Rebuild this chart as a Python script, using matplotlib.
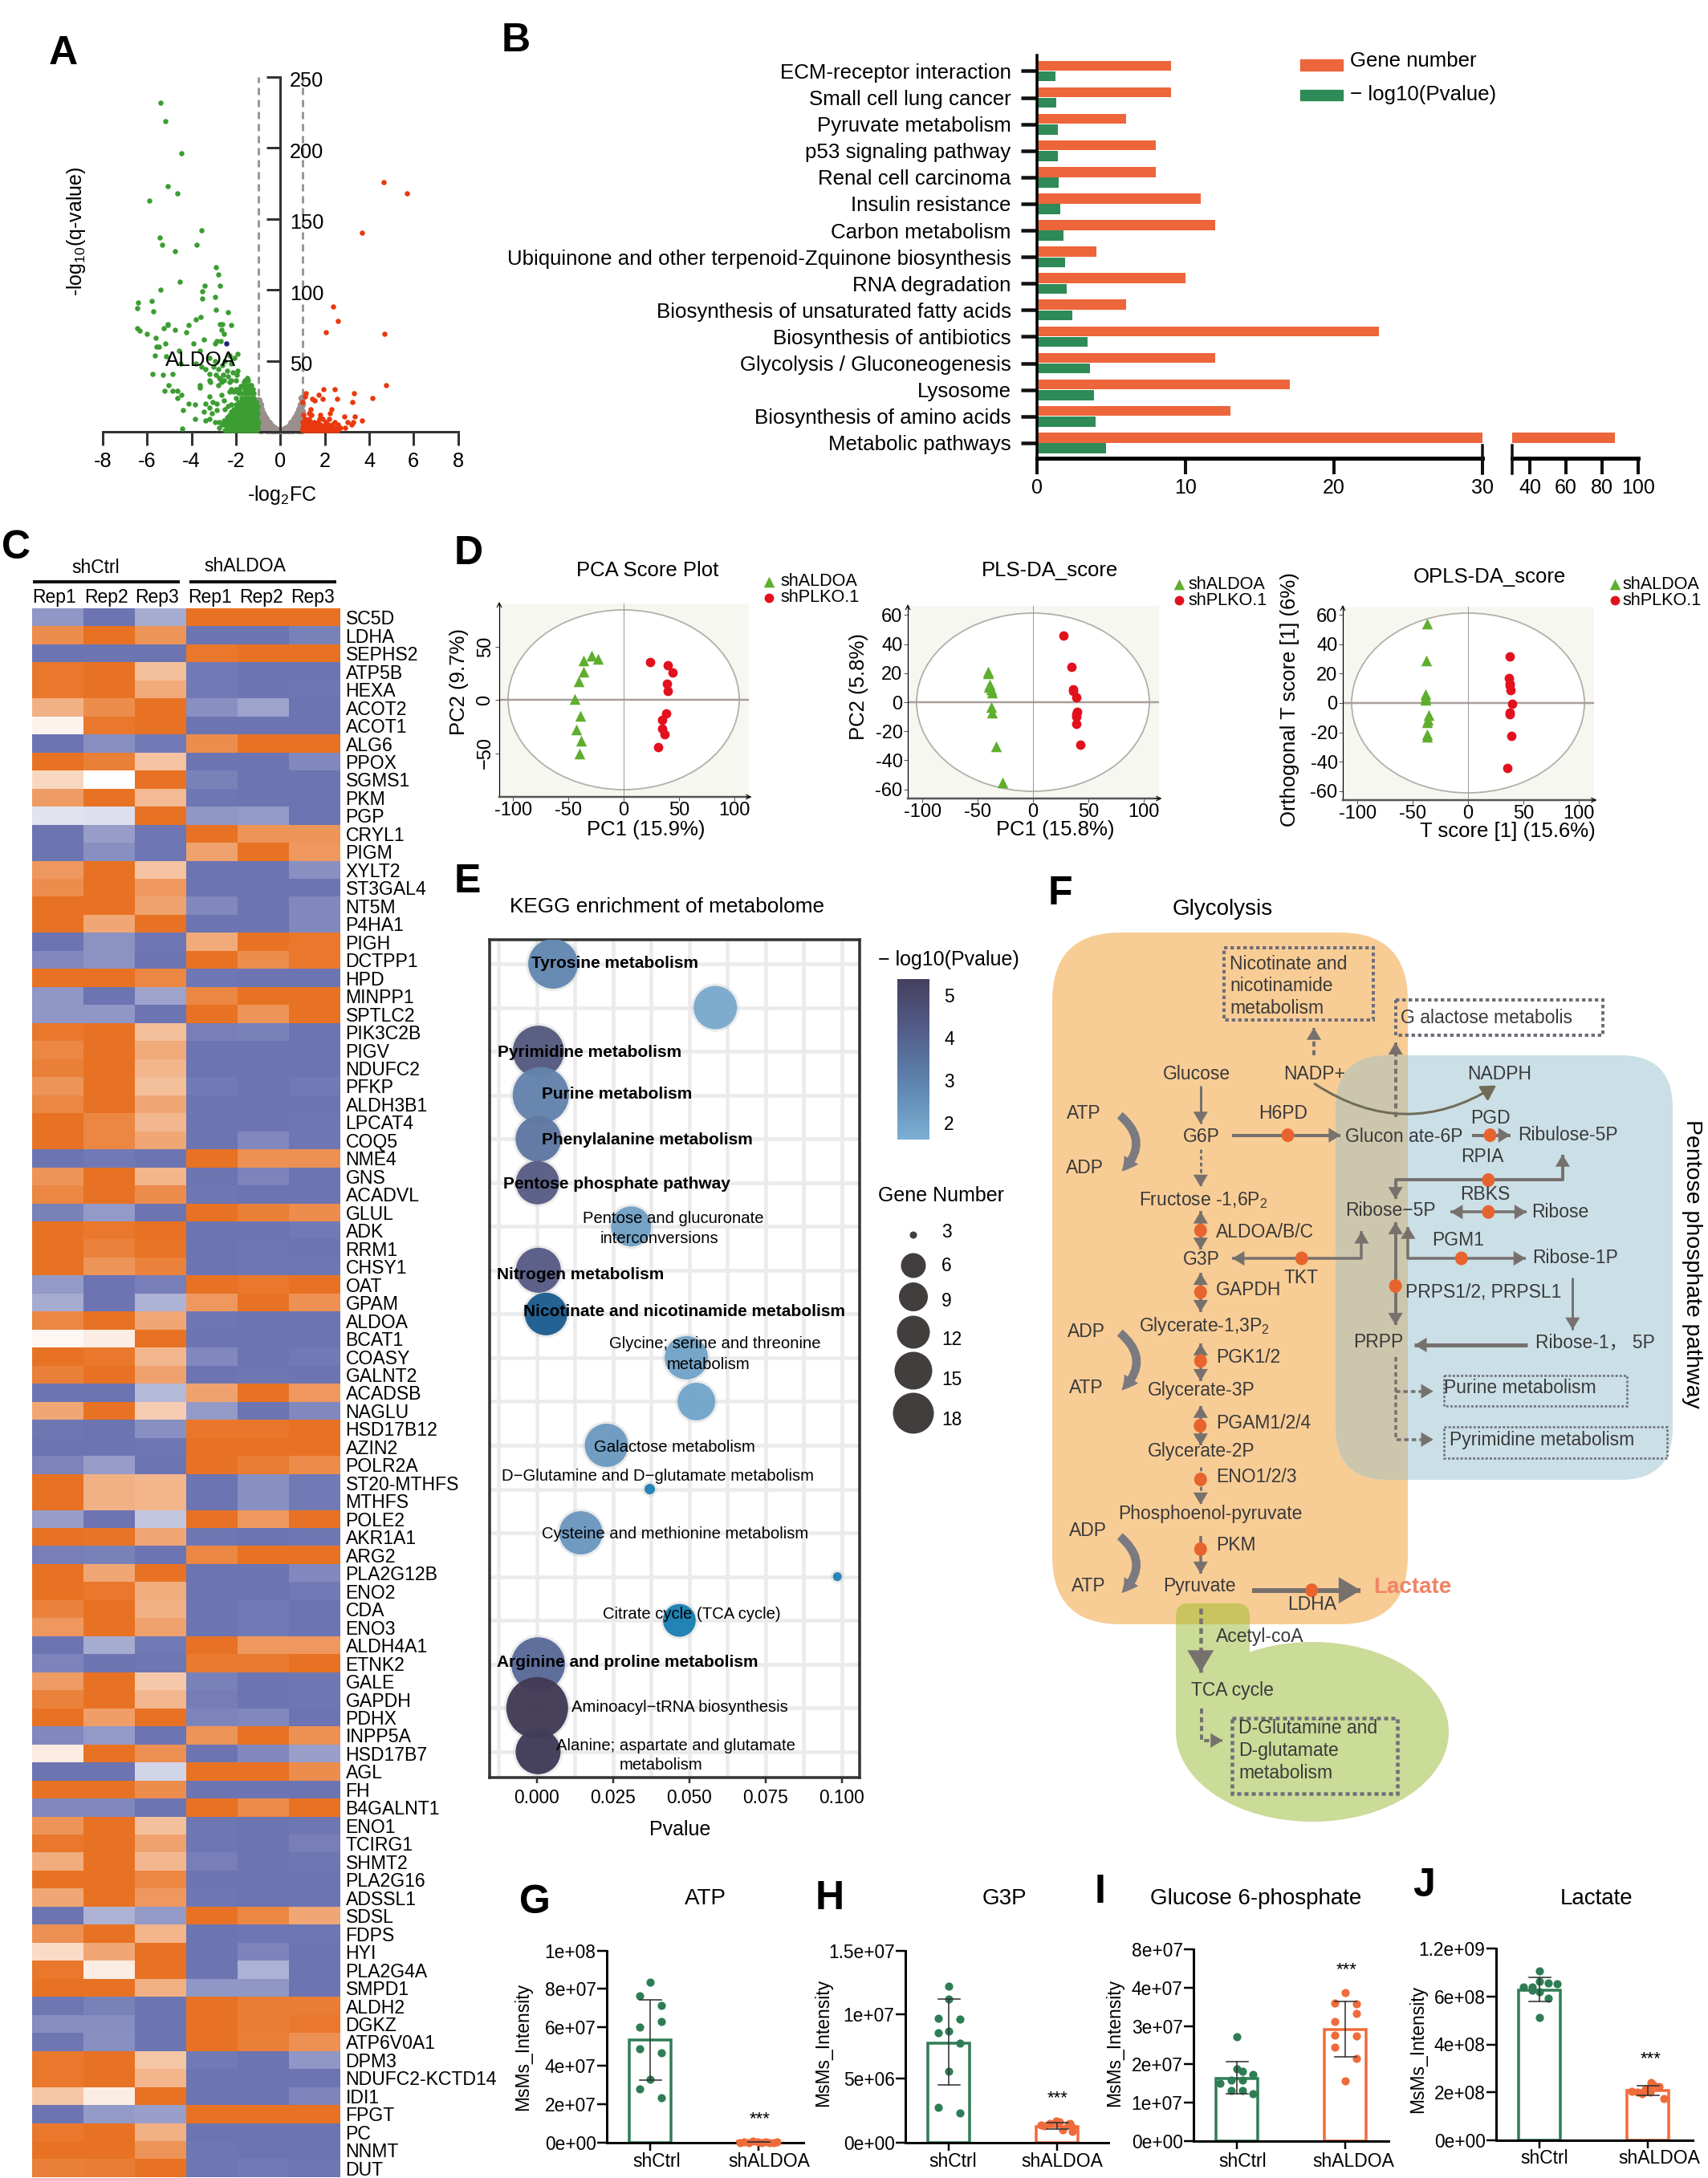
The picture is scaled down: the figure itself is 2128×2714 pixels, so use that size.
import numpy as np
import matplotlib
matplotlib.use('Agg')
import matplotlib.pyplot as plt
from matplotlib.colors import LinearSegmentedColormap
from matplotlib.patches import Rectangle, Ellipse, FancyBboxPatch, FancyArrowPatch

plt.rcParams['font.family'] = ['Liberation Sans', 'DejaVu Sans']
plt.rcParams['mathtext.default'] = 'regular'
plt.rcParams['axes.unicode_minus'] = False

W, H = 2128, 2714

# ---- A: volcano
volcano_green = [(-5.4,232),(-5.19,219),(-4.44,196),(-5.07,173),(-4.63,168),(-5.9,163),(-3.57,142),(-5.44,137),
    (-5.31,132),(-3.77,132),(-4.74,127),(-2.9,116),(-2.81,111),(-4.53,106),(-3.41,103),(-2.71,103),(-5.4,100),
    (-3.5,99),(-2.94,95),(-3.5,94),(-6.41,91),(-5.8,92),(-6.43,87),(-5.73,85),(-2.9,86),(-2.36,84),(-3.59,81),
    (-3.79,79),(-2.73,76),(-5.07,76),(-5.07,75),(-2.63,76),(-2.21,75),(-4.14,75),(-5.24,73),(-6.46,73),(-4.76,72),
    (-2.66,72),(-6.33,71),(-4.24,70),(-6,69),(-2.53,69),(-5.63,66),(-3.43,65),(-2.69,64),(-2.85,64),(-3.91,62),
    (-5.19,62),(-2.94,62),(-5.57,60),(-5.47,60),(-4.57,57),(-3.63,57),(-5.64,54),(-1.94,55),(-3.79,48),(-3.36,44),
    (-2.93,50),(-2.5,50),(-2.07,52),(-2.29,54),(-2.79,44),(-2.57,40),(-1.93,43),(-5.14,53),(-4.5,48),(-4.86,41),
    (-5.77,41),(-5.29,40),(-5.03,33),(-5.21,29),(-4.87,29),(-4.63,29),(-4.46,26),(-4.64,24),(-4.13,20),(-3.86,19),
    (-4.39,15),(-3.83,9),(-4.43,2),(-3.63,33),(-3.64,31),(-3.21,36),(-3.14,35),(-2.79,33),(-2.64,35),(-2.69,37),
    (-2.53,36),(-2.29,35),(-2,36),(-1.5,38),(-1.64,35),(-1.86,30),(-3.2,25),(-3.04,21),(-3.36,20),(-3.2,17),
    (-2.86,20),(-3.43,14),(-3.1,13),(-3.2,9),(-3.36,8),(-2.86,15),(-2.53,22),(-2.64,26),(-2.93,7),(-2.76,3),
    (-3.55,46),(-3.2,52),(-3,46),(-2.6,47),(-2.2,48),(-2.9,40),(-3.2,41),(-2.4,43),(-2.75,38),(-2.35,39),(-2.15,42),(-1.95,40)]
green_rows = [(1,[-2.5,-2.35,-2.25,-2.15,-2.05,-1.95,-1.85,-1.75,-1.65,-1.55,-1.45,-1.35,-1.25,-1.15,-1.05]),
    (1.5,[-2.3,-2.1,-1.9,-1.7,-1.5,-1.3,-1.1]),
    (3,[-2.3,-2.2,-2.1,-2,-1.9,-1.8,-1.7,-1.6,-1.5,-1.4,-1.3,-1.2,-1.1,-1.02]),
    (4,[-2.45,-2.15,-1.85,-1.65,-1.45,-1.25,-1.05]),
    (5,[-2.6,-2.4,-2.25,-2.1,-1.95,-1.8,-1.7,-1.55,-1.4,-1.3,-1.2,-1.1,-1.03]),
    (6,[-2.5,-2.3,-2,-1.85,-1.65,-1.5,-1.25]),
    (7,[-2.75,-2.45,-2.2,-2.05,-1.9,-1.75,-1.6,-1.45,-1.35,-1.2,-1.1,-1]),
    (8,[-2.55,-2.35,-2.15,-1.95,-1.8,-1.65,-1.5,-1.3]),
    (9,[-2.3,-2.1,-1.85,-1.7,-1.55,-1.4,-1.25,-1.15,-1.05]),
    (10,[-2.4,-2.2,-2,-1.75,-1.6,-1.45,-1.3]),
    (11,[-2,-1.8,-1.65,-1.5,-1.35,-1.2,-1.1]),
    (12,[-2.3,-2.15,-1.9,-1.75,-1.6,-1.45,-1.3]),
    (13,[-2.05,-1.7,-1.55,-1.4,-1.25,-1.1,-1.02]),
    (14,[-2.2,-2,-1.85]),
    (15,[-1.9,-1.7,-1.6,-1.45,-1.3,-1.2,-1.05]),
    (16,[-2.5,-2.1,-1.85,-1.75,-1.55]),
    (18,[-2.35,-1.95,-1.75,-1.6,-1.45,-1.3,-1.15,-1.03]),
    (19,[-2.2,-2,-1.85,-1.7]),
    (21,[-1.9,-1.8,-1.6,-1.5,-1.35,-1.2,-1.1]),
    (24,[-2,-1.75,-1.55,-1.45,-1.3,-1.2]),
    (27,[-1.85,-1.7,-1.6,-1.45,-1.3,-1.2]),
    (28,[-2.1,-2.3,-1.95]),
    (30,[-2.2,-2,-1.9,-1.6,-1.5,-1.35,-1.25]),
    (32,[-1.8,-1.7,-1.65,-1.55,-1.45]),
    (33,[-1.5,-1.4,-1.3]),
    (36,[-1.6,-1.45,-2.2])]
volcano_red = [(4.67,176),(5.71,168),(3.69,140),(2.36,88),(2.61,78),(2.04,70),(4.7,69),(4.77,33),(1.94,30),(2.43,30),
    (3.33,27),(4.14,24),(3.26,21),(2.57,23),(1.9,23),(1.74,26),(1.16,27),(1.1,25),(1,21),(1.43,23),(1.54,22),
    (2.29,16),(2.24,13),(1.36,16),(1.29,13),(3.36,11),(2.87,11),(3.67,8),(3.29,7),(3.03,7),(3.19,5)]
red_rows = [(1,[1,1.1,1.2,1.3,1.4,1.5,1.6,1.7,1.8,1.9,2,2.1,2.2,2.3,2.4,2.5,2.6]),
    (3,[1,1.1,1.2,1.3,1.4,1.5,1.6,1.7,1.8,1.9,2,2.1,2.25,2.4,2.55,2.7,2.9]),
    (5,[1.05,1.15,1.3,1.4,1.55,1.65,1.8,2,2.15,2.35,2.6]),
    (7,[1,1.2,1.35,1.5,1.7,2.05,2.45]),
    (9,[1.1,1.3,1.75,1.9,2.2]),
    (12,[1.05,1.4,1.8])]
gray_cols = [(-.98,[22,18,14,10,6,2]),(-.93,[19,15,11,7,3]),(-.87,[16,12,8,4,1]),(-.8,[13,10,6,2]),(-.72,[11,7,3]),
    (-.65,[9,5,2]),(-.58,[7,4,1]),(-.5,[6,2]),(-.42,[4,1]),(-.35,[3,1]),(-.25,[2,1]),(-.15,[1]),(-.05,[1]),(.05,[1]),
    (.15,[1]),(.25,[2,1]),(.35,[3,1]),(.42,[4,1]),(.5,[6,2]),(.58,[7,4,1]),(.65,[9,5,2]),(.72,[11,7,3]),(.8,[13,9,5,1]),
    (.87,[16,12,8,4,1]),(.93,[19,15,11,7,3]),(.98,[24,19,14,9,5,1])]
aldoa_point = (-2.43, 62)

# ---- B: enrichment bars
pathways = ['ECM-receptor interaction','Small cell lung cancer','Pyruvate metabolism','p53 signaling pathway',
    'Renal cell carcinoma','Insulin resistance','Carbon metabolism','Ubiquinone and other terpenoid-Zquinone biosynthesis',
    'RNA degradation','Biosynthesis of unsaturated fatty acids','Biosynthesis of antibiotics','Glycolysis / Gluconeogenesis',
    'Lysosome','Biosynthesis of amino acids','Metabolic pathways']
gene_number = [9,9,6,8,8,11,12,4,10,6,23,12,17,13,87]
log_pvalue = [1.25,1.3,1.4,1.42,1.45,1.55,1.8,1.9,2.0,2.4,3.4,3.55,3.85,3.95,4.65]

# ---- C: heatmap
genes = ['SC5D','LDHA','SEPHS2','ATP5B','HEXA','ACOT2','ACOT1','ALG6','PPOX','SGMS1','PKM','PGP','CRYL1','PIGM','XYLT2',
    'ST3GAL4','NT5M','P4HA1','PIGH','DCTPP1','HPD','MINPP1','SPTLC2','PIK3C2B','PIGV','NDUFC2','PFKP','ALDH3B1','LPCAT4',
    'COQ5','NME4','GNS','ACADVL','GLUL','ADK','RRM1','CHSY1','OAT','GPAM','ALDOA','BCAT1','COASY','GALNT2','ACADSB','NAGLU',
    'HSD17B12','AZIN2','POLR2A','ST20-MTHFS','MTHFS','POLE2','AKR1A1','ARG2','PLA2G12B','ENO2','CDA','ENO3','ALDH4A1',
    'ETNK2','GALE','GAPDH','PDHX','INPP5A','HSD17B7','AGL','FH','B4GALNT1','ENO1','TCIRG1','SHMT2','PLA2G16','ADSSL1',
    'SDSL','FDPS','HYI','PLA2G4A','SMPD1','ALDH2','DGKZ','ATP6V0A1','DPM3','NDUFC2-KCTD14','IDI1','FPGT','PC','NNMT','DUT']
heat = [[-.75,-1,-.6,1,1,1],[.8,1,.75,-1,-1,-.9],[-1,-1,-1,.95,1,1],[.95,1,.45,-.95,-1,-1],[.95,1,.6,-.95,-1,-.98],
    [.55,.8,1,-.8,-.65,-1],[.08,.95,1,-1,-1,-1],[-1,-.8,-.95,.8,1,1],[1,.9,.42,-1,-1,-.85],[.28,0,1,-.9,-1,-1],
    [.7,1,.48,-.98,-1,-1],[-.2,-.22,1,-.75,-.72,-1],[-1,-.7,-.98,1,.75,.75],[-1,-.8,-.98,.65,1,.72],[.72,1,.42,-1,-1,-.8],
    [.8,1,.72,-1,-1,-1],[1,1,.65,-.85,-1,-.85],[1,.62,1,-1,-1,-.85],[-1,-.78,-.98,.6,1,.95],[-.85,-.78,-1,1,.8,.95],
    [1,1,.85,-.98,-1,-1],[-.75,-1,-.65,.85,1,1],[-.75,-.75,-1,1,.75,1],[.95,1,.45,-.92,-.9,-1],[.85,1,.6,-1,-1,-1],
    [.9,1,.52,-1,-1,-1],[.75,1,.45,-.95,-1,-.95],[.85,1,.62,-1,-1,-1],[1,.85,.5,-1,-1,-.98],[1,.85,.62,-1,-.85,-.98],
    [-1,-.95,-1,1,.78,.78],[.75,1,.52,-1,-.88,-1],[.85,1,.8,-.98,-1,-1],[-.9,-.72,-1,1,.9,.8],[1,.95,1,-1,-1,-.95],
    [1,.88,.98,-1,-.98,-1],[1,.75,.88,-1,-.98,-.98],[-.72,-1,-.92,1,.95,1],[-.6,-1,-.55,.72,1,.78],[.85,1,.62,-.97,-1,-1],
    [.05,.12,1,-1,-1,-1],[1,.95,.5,-.85,-1,-.95],[.9,1,.65,-1,-.98,-1],[-1,-1,-.5,.65,1,.72],[.62,1,.35,-.72,-1,-.85],
    [-.97,-1,-.8,.96,.96,1],[-1,-1,-.97,1,1,1],[-.88,-.7,-1,1,.92,.82],[1,.55,.52,-1,-.8,-.95],[1,.55,.52,-1,-.8,-.95],
    [-.7,-1,-.4,1,.72,1],[1,.98,.62,-.97,-1,-.97],[-.92,-.9,-1,.85,1,1],[1,.62,1,-1,-1,-.85],[1,.95,.58,-1,-1,-.95],
    [.88,1,.55,-1,-.95,-1],[.72,1,.65,-1,-.95,-1],[-1,-.6,-.95,1,.72,.72],[-.88,-1,-.97,.93,.93,1],[.7,1,.38,-.9,-1,-.97],
    [.88,1,.5,-.93,-1,-.97],[1,.68,1,-.88,-.85,-1],[-.85,-.72,-1,.75,1,.78],[.14,1,.78,-1,-.85,-.68],[-1,-1,-.3,1,1,.8],
    [1,1,.8,-1,-1,-1],[-.85,-.85,-1,1,.82,1],[.75,1,.45,-.97,-1,-.97],[.95,1,.65,-.98,-1,-.92],[.58,1,.5,-.92,-1,-.97],
    [1,1,.85,-1,-1,-1],[.62,1,.72,-.97,-1,-1],[-1,-.55,-.72,1,.85,.62],[.78,1,.52,-1,-.98,-.98],[.25,.62,1,-1,-.88,-1],
    [.95,.12,1,-1,-.55,-1],[1,1,.55,-.75,-.75,-1],[-.97,-.9,-1,1,.92,.92],[-.82,-.82,-1,1,.92,.95],[-.97,-.8,-1,1,.9,.78],
    [.95,1,.4,-.95,-1,-.75],[.95,1,.52,-1,-1,-1],[.4,.12,1,-1,-1,-.88],[-1,-.72,-.68,1,1,1],[.95,1,.55,-1,-1,-1],
    [1,1,.75,-.97,-1,-1],[.9,.92,1,-.97,-.95,-.97]]
rep_labels = ['Rep1','Rep2','Rep3','Rep1','Rep2','Rep3']

# ---- D: score plots
pca_tri = [(-29,41),(-23,38.5),(-36,37),(-36,26),(-41,17),(-44,.5),(-39,-15),(-43,-28),(-38.5,-38),(-40,-50)]
pca_cir = [(24,35),(40,32),(44,25.5),(39,15),(40,8),(38.5,-13),(35,-18.5),(35,-27),(37,-32.5),(31,-44)]
pls_tri = [(-40.7,21),(-41,19.7),(-39,12),(-40,10.7),(-37.8,8.7),(-37,6.8),(-37.8,-3.3),(-37,-7),(-33.4,-30.4),(-27.6,-55)]
pls_cir = [(27.6,46),(35,24.3),(36.3,8.8),(39.2,3.1),(40,-6.8),(39.6,-8.5),(39.2,-10),(39.2,-15),(43,-29.5),(36.3,8)]
opls_tri = [(-37,54),(-38,29),(-38.5,5.8),(-38.5,3.8),(-38.5,2.2),(-35.6,-8.2),(-36.3,-11.5),(-37,-13.3),(-37,-21.5),(-37,-22.7)]
opls_cir = [(37.8,31.6),(37,16.7),(37.8,13),(37.8,12.2),(38.5,8.9),(40,-.5),(37.8,-6.4),(37.8,-7.8),(39.2,-22.4),(35.6,-44)]

# ---- E: KEGG bubbles
kegg_p = [.0053,.0585,.0005,.0013,.0005,.0002,.0309,.0005,.003,.049,.0523,.0228,.037,.0144,.0985,.0467,.0004,.0001,.0004]
kegg_genes = [11.7,8.9,12.5,15,9.9,8.9,7.6,9.6,8.6,8.9,6.7,8.9,.52,8.9,.37,5.1,13.7,18.1,9.6]
kegg_colors = ['#6488B2','#7BAACD','#565A80','#6483AD','#6079A3','#595C85','#72A1C5','#585C87','#1D5E90','#72A4C8',
    '#72A6CB','#6E9BC2','#1F80B4','#6D98C0','#1F80B4','#1B80B3','#5A6B9A','#423B56','#413C58']
kegg_labels = [('Tyrosine metabolism',384,152,True),('Pyrimidine metabolism',314,293,True),('Purine metabolism',390,359,True),
    ('Phenylalanine metabolism',471,430,True),('Pentose phosphate pathway',389,500,True),
    ('Pentose and glucuronate',541,555,False),('interconversions',504,586,False),('Nitrogen metabolism',291,643,True),
    ('Nicotinate and nicotinamide metabolism',572,701,True),('Glycine; serine and threonine',654,752,False),
    ('metabolism',638,784,False),('Galactose metabolism',545,915,False),('D\u2212Glutamine and D\u2212glutamate metabolism',499,961,False),
    ('Cysteine and methionine metabolism',546,1052,False),('Citrate cycle (TCA cycle)',591,1178,False),
    ('Arginine and proline metabolism',417,1254,True),('Aminoacyl\u2212tRNA biosynthesis',559,1325,False),
    ('Alanine; aspartate and glutamate',549,1385,False),('metabolism',508,1416,False)]
legend_genes = [3,6,9,12,15,18]

# ---- G-J: bars with points
atp_ctrl = [8.34e7,7.65e7,7.13e7,6.32e7,6.02e7,4.88e7,4.68e7,3.28e7,2.81e7,2.35e7]
atp_ctrl_x = [0,-.1,.1,.1,-.1,-.1,.1,0,-.1,.1]
atp_aldoa = [.02e7,.05e7,.01e7,.07e7,.03e7,.01e7,.06e7,.02e7,.01e7,.03e7]
atp_aldoa_x = [-.17,-.13,-.09,-.05,-.01,.03,.07,.1,.14,.17]
g3p_ctrl = [1.22e7,1.123e7,9.73e6,9.63e6,8.74e6,8.56e6,7.74e6,5.58e6,2.76e6,2.3e6]
g3p_ctrl_x = [0,0,-.1,.1,0,-.1,.1,0,-.1,.1]
g3p_aldoa = [1.4e6,1.3e6,1.5e6,1.7e6,1.6e6,1e6,1.45e6,.85e6,1.2e6,1.5e6]
g3p_aldoa_x = [-.15,-.12,-.07,-.01,.02,.05,.1,.14,.14,.12]
g6p_ctrl = [2.71e7,1.89e7,1.81e7,1.73e7,1.58e7,1.51e7,1.58e7,1.31e7,1.31e7,1.23e7]
g6p_ctrl_x = [0,0,.05,.145,-.05,-.155,.05,-.05,.05,.145]
g6p_aldoa = [3.88e7,3.59e7,3.57e7,3.33e7,3.11e7,2.76e7,2.75e7,2.45e7,2.16e7,1.56e7]
g6p_aldoa_x = [0,-.1,.1,.1,-.1,-.1,.1,-.1,.1,0]
lac_ctrl = [7.05e8,6.63e8,6.55e8,6.52e8,6.38e8,6.27e8,6.19e8,6.4e8,5.91e8,5.11e8]
lac_ctrl_x = [0,0,.08,.16,-.15,-.07,0,-.07,.08,0]
lac_aldoa = [2.05e8,2e8,1.95e8,2.1e8,2.42e8,2.3e8,2.25e8,1.75e8,2e8,2.15e8]
lac_aldoa_x = [-.15,-.1,-.05,0,.03,.05,.1,.15,.02,-.02]
bar_means = [(5.35e7,1e6),(7.8e6,1.25e6),(1.63e7,2.9e7),(6.27e8,2.07e8)]
bar_errs = [((3.25e7,7.45e7),(0,3e5)),((4.53e6,1.12e7),(1.05e6,1.56e6)),((1.23e7,2.08e7),(2.19e7,3.64e7)),
    ((5.78e8,6.81e8),(1.89e8,2.29e8))]
bar_ticks = [[0,2e7,4e7,6e7,8e7,1e8],[0,5e6,1e7,1.5e7],[0,1e7,2e7,3e7,4e7,5e7],[0,2e8,4e8,6e8,8e8]]
bar_ticklabels = [['0e+00','2e+07','4e+07','6e+07','8e+07','1e+08'],['0e+00','5e+06','1e+07','1.5e+07'],
    ['0e+00','1e+07','2e+07','3e+07','4e+07','8e+07'],['0e+00','2e+08','4e+08','6e+08','1.2e+09']]
bar_titles = ['ATP','G3P','Glucose 6-phosphate','Lactate']

ORANGE, GREEN = '#EC653B', '#2E8B57'
BAR_ORANGE, BAR_GREEN = '#EF6B3C', '#2E7D55'
DARK = '#333333'
ARROW = '#77716E'

fig = plt.figure(figsize=(W / 100, H / 100), dpi=100, facecolor='white')


def ax_px(l, t, r, b):
    return fig.add_axes([l / W, 1 - b / H, (r - l) / W, (b - t) / H])


def pt(px):
    return px * 0.72


# overlay in pixel coordinates, for the pathway drawing and loose labels
ov = fig.add_axes([0, 0, 1, 1], zorder=5)
ov.set_xlim(0, W)
ov.set_ylim(H, 0)
ov.axis('off')


def txt(x, y, s, size=16.5, ha='center', va='center', color='black', **kw):
    return ov.text(x, y, s, fontsize=size, ha=ha, va=va, color=color, **kw)


for lx, ly, s in [(61, 80, 'A'), (625, 64, 'B'), (2, 696, 'C'), (566, 703, 'D'), (566, 1112, 'E'), (1306, 1127, 'F'),
                  (647, 2384, 'G'), (1016, 2379, 'H'), (1364, 2371, 'I'), (1760, 2363, 'J')]:
    txt(lx, ly, s, size=36, ha='left', va='baseline', fontweight='bold')

# ---------------- A
ax = ax_px(128, 96, 570.6, 538)
ax.patch.set_alpha(0)
ax.set_xlim(-8, 8)
ax.set_ylim(0, 250)
for sp in ['top', 'right']:
    ax.spines[sp].set_visible(False)
ax.spines['left'].set_position(('data', 0))
for sp in ['left', 'bottom']:
    ax.spines[sp].set_linewidth(pt(3))
    ax.spines[sp].set_color(DARK)
ax.set_xticks(range(-8, 9, 2))
ax.set_xticklabels([str(v) for v in range(-8, 9, 2)], fontsize=18.3)
ax.set_yticks(range(50, 251, 50))
ax.set_yticklabels([])
ax.tick_params(length=pt(17), width=pt(3), color=DARK, pad=6)
for v in range(50, 251, 50):
    ax.text(.43, v - 3, str(v), fontsize=18.3, ha='left', va='center')
for xv in [-1, 1]:
    ax.plot([xv, xv], [0, 250], color='#A09595', lw=pt(3), ls=(0, (3, 2)), zorder=1)
gray_pts = [(x, y) for x, ys in gray_cols for y in ys]
ax.scatter(*zip(*gray_pts), s=45, color='#9A8F8C', lw=0, zorder=2, clip_on=False)
green_pts = volcano_green + [(x, y) for y, xs in green_rows for x in xs]
red_pts = volcano_red + [(x, y) for y, xs in red_rows for x in xs]
ax.scatter(*zip(*green_pts), s=22, color='#3C9D32', lw=0, zorder=3, clip_on=False)
ax.scatter(*zip(*red_pts), s=22, color='#E9390E', lw=0, zorder=3, clip_on=False)
ax.scatter(*aldoa_point, s=22, color='#22227A', lw=0, zorder=3)
ax.text(-3.58, 50.5, 'ALDOA', fontsize=18.7, ha='center', va='center', zorder=4)
txt(351, 617, '-log$_2$FC', size=18)
txt(95, 288, '-log$_{10}$(q-value)', size=18, rotation=90)

# ---------------- B
ax = ax_px(1292, 68.6, 1847, 570.6)
ax2 = ax_px(1883.5, 68.6, 2041, 570.6)
rows = np.arange(len(pathways))
for a, lim in [(ax, (0, 30)), (ax2, (30, 100))]:
    a.patch.set_alpha(0)
    a.set_xlim(*lim)
    a.set_ylim(14.565, -.6)
    a.barh(rows - .2, gene_number, height=.38, color=ORANGE)
    for sp in ['top', 'right']:
        a.spines[sp].set_visible(False)
    a.spines['bottom'].set_linewidth(pt(5))
    a.tick_params(axis='x', length=pt(20), width=pt(4), labelsize=18, pad=4, color='#111111')
ax.barh(rows + .2, log_pvalue, height=.38, color=GREEN)
ax.spines['left'].set_linewidth(pt(3.5))
ax.set_yticks(rows)
ax.set_yticklabels(pathways, fontsize=18.6)
ax.tick_params(axis='y', length=pt(20), width=pt(4.5), pad=9, color='#111111')
ax.set_xticks([0, 10, 20, 30])
ax2.spines['left'].set_visible(False)
ax2.set_yticks([])
ax2.set_xticks([40, 60, 80, 100])
for a, xv in [(ax, 30), (ax2, 30)]:
    a.plot([xv, xv], [14.1, 15.15], color='#111111', lw=pt(3.5), clip_on=False, zorder=5)
ov.add_patch(Rectangle((1620, 73.5), 53, 14.5, color=ORANGE))
ov.add_patch(Rectangle((1620, 111.5), 53, 13.5, color=GREEN))
txt(1682, 76, 'Gene number', size=18.6, ha='left')
txt(1682, 118, '\u2212 log10(Pvalue)', size=18.6, ha='left')

# ---------------- C
blue_orange = LinearSegmentedColormap.from_list('bo', ['#6C74B2', '#FFFFFF', '#E87223'])
ax = ax_px(40.4, 758, 423.6, 2713)
ax.imshow(np.array(heat), cmap=blue_orange, vmin=-1, vmax=1, aspect='auto', interpolation='nearest')
ax.set_xticks([])
ax.yaxis.tick_right()
ax.set_yticks(range(len(genes)))
ax.set_yticklabels(genes, fontsize=16.6)
ax.tick_params(axis='y', length=0, pad=5)
for sp in ax.spines.values():
    sp.set_visible(False)
ov.plot([41, 223.5], [725, 725], color='#111111', lw=pt(4), solid_capstyle='butt')
ov.plot([236, 419], [725, 725], color='#111111', lw=pt(4), solid_capstyle='butt')
txt(119, 708, 'shCtrl')
txt(305, 706, 'shALDOA')
for cx, s in zip([68, 132, 196, 261, 325, 389], rep_labels):
    txt(cx, 745, s)

# ---------------- D
score_panels = [
    dict(box=(622, 752, 933, 993), cx=777, cy=872, sx=1.376, sy=1.33, ell=(144, 112), tri=pca_tri, cir=pca_cir,
         yt=[-50, 0, 50], yrot=90, title=('PCA Score Plot', 807, 711), xl=('PC1 (15.9%)', 805, 1034),
         yl=('PC2 (9.7%)', 572, 850), leg=(958, 972, 725, 745)),
    dict(box=(1131, 755, 1444, 995), cx=1287, cy=875, sx=1.376, sy=1.81, ell=(145, 111), tri=pls_tri, cir=pls_cir,
         yt=[-60, -40, -20, 0, 20, 40, 60], yrot=0, title=('PLS-DA_score', 1308, 711), xl=('PC1 (15.8%)', 1315, 1034),
         yl=('PC2 (5.8%)', 1070, 855), leg=(1469, 1480, 728, 748)),
    dict(box=(1673, 756, 1986, 997), cx=1829, cy=876, sx=1.376, sy=1.83, ell=(145, 112), tri=opls_tri, cir=opls_cir,
         yt=[-60, -40, -20, 0, 20, 40, 60], yrot=0, title=('OPLS-DA_score', 1856, 719), xl=('T score [1] (15.6%)', 1878, 1036),
         yl=('Orthogonal T score [1] (6%)', 1607, 872), leg=(2012, 2021, 728, 748)),
]
for p in score_panels:
    l, t, r, b = p['box']
    ax = ax_px(l, t, r, b)
    ax.set_facecolor('#F7F7F2')
    ax.set_xlim((l - p['cx']) / p['sx'], (r - p['cx']) / p['sx'])
    ax.set_ylim((p['cy'] - b) / p['sy'], (p['cy'] - t) / p['sy'])
    for sp in ['top', 'right']:
        ax.spines[sp].set_visible(False)
    ax.spines['left'].set_linewidth(pt(1.2))
    ax.spines['bottom'].set_linewidth(pt(2.5))
    ax.spines['bottom'].set_color('#555555')
    ax.add_patch(Ellipse((0, 0), 2 * p['ell'][0] / p['sx'], 2 * p['ell'][1] / p['sy'], fc='white', ec='#B5AEA8', lw=pt(1.8)))
    ax.axhline(0, color='#A89F9B', lw=pt(2.5), zorder=2)
    ax.axvline(0, color='#999999', lw=pt(1), zorder=2)
    ax.scatter(*zip(*p['tri']), marker='^', s=95, color='#5FAE2E', lw=0, zorder=3)
    ax.scatter(*zip(*p['cir']), marker='o', s=72, color='#E3101E', lw=0, zorder=3)
    ax.set_xticks([-100, -50, 0, 50, 100])
    ax.set_xticklabels(['-100', '-50', '0', '50', '100'], fontsize=17)
    ax.set_yticks(p['yt'])
    if p['yrot']:
        ax.set_yticklabels([str(v).replace('-', '\u2212') for v in p['yt']], fontsize=17, rotation=90, va='center')
    else:
        ax.set_yticklabels([str(v) for v in p['yt']], fontsize=17)
    ax.tick_params(length=pt(5), width=pt(1), pad=1, color='#555555')
    ax.annotate('', xy=(0, 1.02), xytext=(0, .98), xycoords='axes fraction', arrowprops=dict(arrowstyle='->', lw=.8))
    ax.annotate('', xy=(1.02, 0), xytext=(.98, 0), xycoords='axes fraction', arrowprops=dict(arrowstyle='->', lw=.8))
    s, x, y = p['title']
    txt(x, y, s, size=18.5)
    s, x, y = p['xl']
    txt(x, y, s, size=18.5)
    s, x, y = p['yl']
    txt(x, y, s, size=18.5, rotation=90)
    mx, tx, y1, y2 = p['leg']
    ov.scatter([mx], [y1], marker='^', s=95, color='#5FAE2E', lw=0)
    ov.scatter([mx], [y2], marker='o', s=72, color='#E3101E', lw=0)
    txt(tx, y1, 'shALDOA', size=15.6, ha='left')
    txt(tx, y2, 'shPLKO.1', size=15.6, ha='left')

# ---------------- E
ax = ax_px(610, 1171, 1071, 2215)
ax.set_xlim(-.0155, .1058)
ax.set_ylim(18.59, -.55)
ax.set_xticks([0, .025, .05, .075, .1])
ax.set_xticklabels(['0.000', '0.025', '0.050', '0.075', '0.100'], fontsize=16.4)
ax.set_xticks([-.0125, .0125, .0375, .0625, .0875], minor=True)
ax.set_yticks(range(19))
ax.set_yticklabels([])
ax.grid(which='both', color='#EBEBEB', lw=pt(4.5))
ax.set_axisbelow(True)
ax.tick_params(axis='y', length=0)
ax.tick_params(axis='x', which='major', length=pt(7), width=pt(2.5), color=DARK, pad=5)
ax.tick_params(axis='x', which='minor', length=0)
for sp in ax.spines.values():
    sp.set_linewidth(pt(3.5))
    sp.set_color(DARK)
diam = 18.1 * np.sqrt(np.array(kegg_genes))
ax.scatter(kegg_p, range(19), s=(pt(diam + 6)) ** 2, color='#C8C8C8', alpha=.35, lw=0, zorder=2)
ax.scatter(kegg_p, range(19), s=pt(diam) ** 2, c=kegg_colors, alpha=.97, lw=0, zorder=3)
for s, zx, zy, bold in kegg_labels:
    txt(590 + zx / 2.178, 1080 + zy / 1.2645, s, size=15 if bold else 14.6, fontweight='bold' if bold else 'normal', zorder=10)
txt(635, 1130, 'KEGG enrichment of metabolome', size=18.8, ha='left')
txt(847, 2280, 'Pvalue', size=18)
txt(1094, 1196, '\u2212 log10(Pvalue)', size=18, ha='left')
txt(1094, 1490, 'Gene Number', size=18, ha='left')
cax = ax_px(1118, 1220, 1158, 1420)
cbar_cmap = LinearSegmentedColormap.from_list('cb', ['#7BAFD4', '#5F86B0', '#545F8C', '#46405F'])
cax.imshow(np.linspace(1, 0, 100)[:, None], cmap=cbar_cmap, aspect='auto', extent=(0, 1, 1.6, 5.38))
cax.set_xticks([])
cax.yaxis.tick_right()
cax.set_yticks([2, 3, 4, 5])
cax.set_yticklabels(['2', '3', '4', '5'], fontsize=16.4)
cax.tick_params(length=0, pad=13)
for sp in cax.spines.values():
    sp.set_visible(False)
legend_diam = [9, 31, 36, 41, 47, 51]
legend_y = [1539, 1577, 1616, 1660, 1708, 1761]
label_y = [1536, 1577, 1622, 1669, 1720, 1770]
ov.scatter([1138] * 6, legend_y, s=pt(np.array(legend_diam)) ** 2, color='#423E3E', lw=0)
for g, y in zip(legend_genes, label_y):
    txt(1173, y, str(g), size=16.4, ha='left')

# ---------------- F


def z7(zx, zy):
    return 1280 + zx / 1.849, 1100 + zy / 2.613


def z8(zx, zy):
    return 1280 + zx / 1.849, 1700 + zy / 2.613


def head(p0, p1, size=11):
    d = np.array(p1) - np.array(p0)
    d = d / np.hypot(*d)
    ov.add_patch(FancyArrowPatch(tuple(np.array(p1) - d * 20), p1, arrowstyle='-|>,head_length=0.55,head_width=0.33',
                                 mutation_scale=size * 1.8, shrinkA=0, shrinkB=0, fc=ARROW, ec=ARROW, lw=0, zorder=4))


def route(pts, lw=3, ls='-', end=True, start=False, size=11):
    xs, ys = zip(*pts)
    ov.plot(xs, ys, color=ARROW, lw=pt(lw), ls=ls, zorder=3, solid_capstyle='butt')
    if end:
        head(pts[-2], pts[-1], size)
    if start:
        head(pts[1], pts[0], size)


def node(p):
    ov.add_patch(Ellipse(p, 16, 17, color='#E8642E', lw=0, zorder=5))


def dash_box(x0, y0, x1, y1, lw=3.2):
    ov.add_patch(Rectangle((x0, y0), x1 - x0, y1 - y0, fill=False, ec='#6E6E78', lw=pt(lw), ls=(0, (1.1, .9)), zorder=3))


orange_box = FancyBboxPatch((1311, 1162), 443, 862, boxstyle='round,pad=0,rounding_size=85', fc='#F8CC95', ec='none', zorder=1)
blue_box = FancyBboxPatch((1664, 1315), 420, 529, boxstyle='round,pad=0,rounding_size=65', fc='#CBDFE6', ec='none', zorder=1.1)
overlap_b = FancyBboxPatch((1664, 1315), 420, 529, boxstyle='round,pad=0,rounding_size=65', fc='#CCC6AD', ec='none', zorder=1.2)
tail = FancyBboxPatch((1465, 1998), 92, 100, boxstyle='round,pad=0,rounding_size=16', fc='#CBDB98', ec='none', zorder=1.1)
tail_low = Rectangle((1465, 2020), 92, 138, fc='#CBDB98', ec='none', zorder=1.1)
overlap_g = FancyBboxPatch((1465, 1998), 92, 100, boxstyle='round,pad=0,rounding_size=16', fc='#C9C460', ec='none', zorder=1.2)
blob = Ellipse((1635, 2158), 340, 224, fc='#CBDB98', ec='none', zorder=1.1)
for patch in [orange_box, blue_box, overlap_b, tail, tail_low, overlap_g, blob]:
    ov.add_patch(patch)
overlap_b.set_clip_path(orange_box)
overlap_g.set_clip_path(orange_box)

dash_box(*z7(453, 212), *z7(797, 448), lw=4)
dash_box(*z7(848, 381), *z7(1325, 497), lw=4)
dash_box(*z8(960, 37), *z8(1382, 135), lw=2.6)
dash_box(*z8(960, 205), *z8(1473, 307), lw=2.6)
dash_box(*z8(472, 1152), *z8(853, 1398), lw=4.5)

DASH = (0, (1.6, 1.1))
route([z7(399, 660), z7(399, 785)])
route([z7(399, 868), z7(399, 990)], ls=DASH)
route([z7(472, 822), z7(722, 822)], lw=4)
route([z7(1025, 822), z7(1113, 822)], lw=4)
route([z7(660, 562), z7(660, 472)], lw=4, ls=DASH)
route([z7(848, 762), z7(848, 520)], lw=4, ls=DASH)
route([z7(848, 1030), z7(848, 968), z7(1233, 968), z7(1233, 885)], lw=4, start=True)
route([z7(975, 1072), z7(1150, 1072)], lw=3.5, start=True)
route([z7(399, 1070), z7(399, 1195)], lw=3.5, start=True)
route([z7(472, 1223), z7(770, 1223), z7(770, 1135)], lw=3.5, start=True)
route([z7(399, 1270), z7(399, 1398)], lw=3.5, start=True)
route([z7(848, 1105), z7(848, 1440)], lw=4, start=True)
route([z7(1148, 1223), z7(877, 1223), z7(877, 1120)], lw=3.5, start=True)
route([z7(1256, 1285), z7(1256, 1455)])
route([z7(1152, 1505), z7(892, 1505)], lw=5)
route([z7(399, 1500), z8(399, 55)], lw=3.5, start=True)
route([z7(848, 1545), z8(848, 245), z8(935, 245)], lw=3.5, ls=DASH)
route([z8(848, 88), z8(935, 88)], lw=3.5, ls=DASH)
route([z8(399, 135), z8(399, 265)], lw=3.5, start=True)
route([z8(399, 335), z8(399, 457)], ls=DASH)
route([z8(399, 560), z8(399, 682)], lw=3.5)
route([z8(517, 736), z8(768, 736)], lw=6, size=20)
route([z8(399, 795), z8(399, 1003)], lw=4.5, ls=DASH, size=20)
route([z8(402, 1122), z8(402, 1225), z8(450, 1225)], lw=4, ls=DASH)

for p in [z7(600, 822), z7(1066, 822), z7(1062, 968), z7(1062, 1072), z7(399, 1132), z7(632, 1223), z7(399, 1333),
          z7(848, 1313), z7(1000, 1223), z7(399, 1557), z8(398, 200), z8(399, 375), z8(399, 602), z8(655, 736)]:
    node(p)

ov.add_patch(FancyArrowPatch(z7(662, 655), z7(1080, 660), connectionstyle='arc3,rad=0.32',
                             arrowstyle='-|>,head_length=0.6,head_width=0.35', mutation_scale=18, shrinkA=0, shrinkB=0,
                             fc='#6F6C58', ec='#6F6C58', lw=pt(3), zorder=3))
for a, b in [(z7(213, 757), z7(217, 940)), (z7(213, 1465), z8(217, 85)), (z8(213, 560), z8(217, 745))]:
    ov.add_patch(FancyArrowPatch(a, b, connectionstyle='arc3,rad=-0.55',
                                 arrowstyle='simple,head_length=0.9,head_width=1.0,tail_width=0.5', mutation_scale=15,
                                 shrinkA=0, shrinkB=0, fc='#7A7A80', ec='none', lw=0, zorder=3))

F_COL = '#3A3A3A'
labels7 = [('Glucose', 390, 623), ('NADP+', 662, 623), ('NADPH', 1087, 623), ('ATP', 130, 750), ('H6PD', 590, 750),
           ('PGD', 1066, 767), ('ADP', 133, 928), ('G6P', 401, 826), ('Glucon ate-6P', 868, 826), ('Ribulose-5P', 1245, 823),
           ('RPIA', 1048, 893), ('RBKS', 1055, 1015), ('Ribose\u22125P', 837, 1067), ('Ribose', 1228, 1072), ('PGM1', 992, 1165),
           ('G3P', 401, 1226), ('Ribose-1P', 1262, 1222), ('TKT', 631, 1288), ('ADP', 135, 1463), ('PRPP', 808, 1497)]
left7 = [('Nicotinate and', 466, 265), ('nicotinamide', 466, 337), ('metabolism', 466, 410), ('G alactose metabolis', 860, 440),
         ('Fructose -1,6P$_2$', 257, 1033), ('ALDOA/B/C', 434, 1138), ('GAPDH', 434, 1325), ('PRPS1/2, PRPSL1', 871, 1333),
         ('Glycerate-1,3P$_2$', 257, 1443), ('Ribose-1\uff0c 5P', 1170, 1497), ('PGK1/2', 434, 1545)]
labels8 = [('ATP', 136, 78), ('Glycerate-3P', 401, 85), ('Glycerate-2P', 401, 283), ('Phosphoenol-pyruvate', 421, 487),
           ('ADP', 140, 541), ('ATP', 141, 723), ('Pyruvate', 396, 723), ('LDHA', 656, 782)]
left8 = [('Purine metabolism', 960, 78), ('PGAM1/2/4', 434, 193), ('Pyrimidine metabolism', 972, 247), ('ENO1/2/3', 434, 367),
         ('PKM', 434, 590), ('Acetyl-coA', 434, 887), ('TCA cycle', 378, 1061), ('D-Glutamine and', 487, 1185),
         ('D-glutamate', 487, 1258), ('metabolism', 487, 1332)]
for s, zx, zy in labels7:
    txt(*z7(zx, zy), s, color=F_COL, zorder=6, family=['Liberation Sans', 'Noto Sans CJK SC'])
for s, zx, zy in left7:
    txt(*z7(zx, zy), s, ha='left', color=F_COL, zorder=6, family=['Liberation Sans', 'Noto Sans CJK SC'])
for s, zx, zy in labels8:
    txt(*z8(zx, zy), s, color=F_COL, zorder=6)
for s, zx, zy in left8:
    txt(*z8(zx, zy), s, ha='left', color=F_COL, zorder=6)
txt(*z8(887, 727), 'Lactate', size=20, fontweight='bold', color='#F08466', zorder=6)
txt(1523, 1133, 'Glycolysis', size=20)
txt(2108, 1575, 'Pentose phosphate pathway', size=20.5, rotation=-90)

# ---------------- G-J
bar_layout = [
    dict(ctrl=(atp_ctrl_x, atp_ctrl), aldoa=(atp_aldoa_x, atp_aldoa), x0=810, xaxis=(756, 1001), y=(2670, 2430.6), top=1e8,
         title=879, yl=(652, 2550), star=(947, 2641), off=(8, 13), ly=2693),
    dict(ctrl=(g3p_ctrl_x, g3p_ctrl), aldoa=(g3p_aldoa_x, g3p_aldoa), x0=1182, xaxis=(1128, 1381), y=(2670, 2430.6), top=1.5e7,
         title=1251, yl=(1026, 2545), star=(1318, 2615), off=(5, 6), ly=2693),
    dict(ctrl=(g6p_ctrl_x, g6p_ctrl), aldoa=(g6p_aldoa_x, g6p_aldoa), x0=1541, xaxis=(1487, 1730), y=(2668, 2429), top=5e7,
         title=1565, yl=(1389, 2545), star=(1678, 2455), off=(7, 10), ly=2693),
    dict(ctrl=(lac_ctrl_x, lac_ctrl), aldoa=(lac_aldoa_x, lac_aldoa), x0=1918, xaxis=(1864, 2108.5), y=(2667, 2428), top=8e8,
         title=1989, yl=(1767, 2553), star=(2057, 2566), off=(6, 14), ly=2689),
]
for i, p in enumerate(bar_layout):
    l, r = p['xaxis']
    yb, yt = p['y']
    ax = ax_px(l, yt, r, yb)
    ax.patch.set_alpha(0)
    ax.set_xlim((l - p['x0']) / 135, (r - p['x0']) / 135)
    ax.set_ylim(0, p['top'])
    for sp in ['top', 'right']:
        ax.spines[sp].set_visible(False)
    for sp in ['left', 'bottom']:
        ax.spines[sp].set_linewidth(pt(3))
    ax.bar([0, 1], bar_means[i], width=.385, fill=False, edgecolor=[BAR_GREEN, BAR_ORANGE], lw=pt(3.5), zorder=2, clip_on=False)
    for j, (key, col) in enumerate([('ctrl', BAR_GREEN), ('aldoa', BAR_ORANGE)]):
        xs, ys = p[key]
        ax.scatter(np.array(xs) + j, ys, s=54, color=col, lw=0, zorder=3, clip_on=False)
        lo, hi = bar_errs[i][j]
        ax.plot([j, j], [lo, hi], color='#333333', lw=pt(1.6), zorder=4)
        for v in (lo, hi):
            ax.plot([j - .1, j + .1], [v, v], color='#333333', lw=pt(1.6), zorder=4)
    ax.set_xticks([0, 1])
    ax.set_xticklabels([])
    ax.set_yticks(bar_ticks[i])
    ax.set_yticklabels(bar_ticklabels[i], fontsize=16.4)
    ax.tick_params(axis='y', length=pt(12), width=pt(2.5), pad=1)
    ax.tick_params(axis='x', length=pt(10), width=pt(2.5))
    txt(p['x0'] + p['off'][0], p['ly'], 'shCtrl')
    txt(p['x0'] + 135 + p['off'][1], p['ly'], 'shALDOA')
    txt(p['title'], 2366, bar_titles[i], size=20)
    txt(p['yl'][0], p['yl'][1], 'MsMs_Intensity', rotation=90)
    txt(p['star'][0], p['star'][1], '***', size=16)

fig.savefig('out.png', dpi=100)
